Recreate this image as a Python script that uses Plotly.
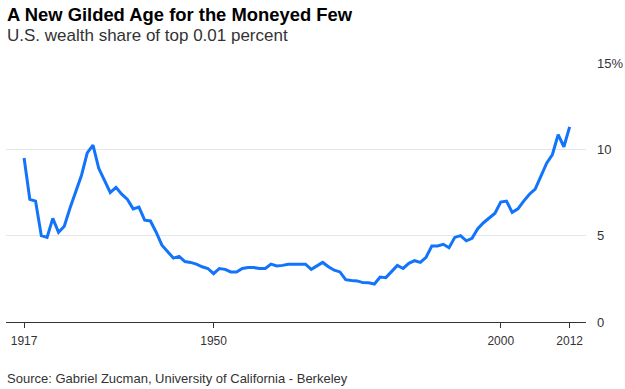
import plotly.graph_objects as go

years = list(range(1917, 2013))
share = [
    9.5, 7.1, 7.0, 5.0, 4.9, 6.0, 5.2, 5.55, 6.6, 7.5,
    8.5, 9.8, 10.25, 8.9, 8.2, 7.5, 7.8, 7.4, 7.1, 6.55,
    6.65, 5.9, 5.85, 5.2, 4.45, 4.1, 3.7, 3.8, 3.5, 3.45,
    3.35, 3.2, 3.1, 2.8, 3.1, 3.05, 2.9, 2.9, 3.1, 3.15,
    3.15, 3.1, 3.1, 3.35, 3.25, 3.28, 3.35, 3.35, 3.35, 3.35,
    3.05, 3.25, 3.45, 3.2, 3.0, 2.9, 2.45, 2.4, 2.38, 2.28,
    2.27, 2.2, 2.6, 2.57, 2.95, 3.28, 3.1, 3.4, 3.55, 3.45,
    3.75, 4.4, 4.4, 4.5, 4.3, 4.9, 5.0, 4.7, 4.85, 5.4,
    5.75, 6.0, 6.3, 6.95, 7.0, 6.35, 6.55, 7.0, 7.4, 7.7,
    8.4, 9.2, 9.7, 10.85, 10.15, 11.3,
]
x_tickvals = [1917, 1950, 2000, 2012]
x_ticktext = ["1917", "1950", "2000", "2012"]
y_tickvals = [0, 5, 10, 15]
y_ticktext = ["0", "5", "10", "15%"]

title = "A New Gilded Age for the Moneyed Few"
subtitle = "U.S. wealth share of top 0.01 percent"
source = "Source: Gabriel Zucman, University of California - Berkeley"

FONT = "Liberation Sans, Arial, Helvetica, sans-serif"

fig = go.Figure()
fig.add_trace(go.Scatter(
    x=years, y=share, mode="lines",
    line=dict(color="#1273fb", width=3),
    hoverinfo="skip", showlegend=False,
))

fig.update_layout(
    width=625, height=389,
    margin=dict(l=6, r=39, t=63, b=67),
    paper_bgcolor="white", plot_bgcolor="white",
    font=dict(family=FONT, color="#333333", size=12),
    xaxis=dict(
        range=[1913.85, 2014.85],
        tickvals=x_tickvals, ticktext=x_ticktext,
        showgrid=False, zeroline=False,
        showline=True, linecolor="#333333", linewidth=1,
        ticks="outside", ticklen=5, tickcolor="#333333", tickwidth=1,
        ticklabelstandoff=3, automargin=False,
        tickfont=dict(size=12, color="#333333"),
    ),
    yaxis=dict(
        range=[0, 15], side="right",
        tickvals=y_tickvals, ticktext=y_ticktext,
        showgrid=True, gridcolor="#e6e6e6", gridwidth=1,
        zeroline=False, showline=False,
        ticks="", ticklabelstandoff=10, automargin=False,
        tickfont=dict(size=13, color="#333333"),
    ),
    annotations=[
        dict(text="<b>" + title + "</b>", xref="paper", yref="paper",
             x=-0.0017, y=1.1857, xanchor="left", yanchor="middle",
             showarrow=False, font=dict(size=18.4, color="#000000", family=FONT)),
        dict(text=subtitle, xref="paper", yref="paper",
             x=-0.0017, y=1.1044, xanchor="left", yanchor="middle",
             showarrow=False, font=dict(size=17, color="#333333", family=FONT)),
        dict(text=source, xref="paper", yref="paper",
             x=-0.0017, y=-0.2186, xanchor="left", yanchor="middle",
             showarrow=False, font=dict(size=13, color="#333333", family=FONT)),
    ],
)

fig.write_html("out.html", config={"displayModeBar": False},
               post_script="document.body.style.margin='0';")
